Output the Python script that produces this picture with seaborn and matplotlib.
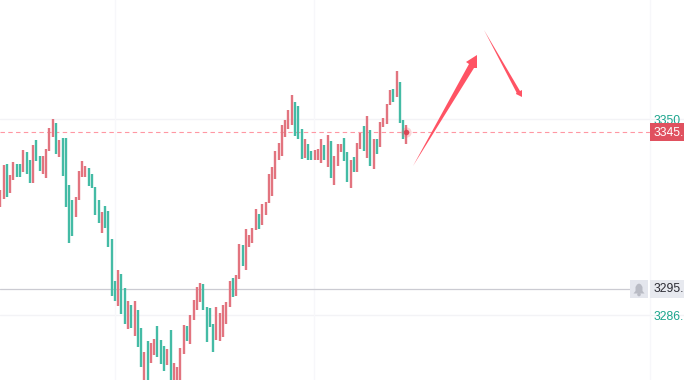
import pandas as pd
import seaborn as sns
import matplotlib.pyplot as plt
from matplotlib.patches import Circle, Polygon, Rectangle
from matplotlib.transforms import Affine2D

# bar ranges, oldest first
highs = [
    3326.9, 3334.8, 3335.2, 3331.7, 3335.8, 3335.2, 3335.2, 3339.6, 3339.0, 3336.4,
    3341.2, 3342.8, 3337.7, 3337.7, 3339.9, 3346.6, 3349.5, 3348.2, 3342.8, 3343.4,
    3343.4, 3328.5, 3323.7, 3324.7, 3332.9, 3336.1, 3334.5, 3333.9, 3332.0, 3327.8,
    3323.7, 3319.9, 3321.8, 3320.2, 3311.3, 3297.9, 3301.4, 3300.1, 3295.7, 3291.5,
    3290.3, 3291.5, 3288.7, 3282.9, 3275.3, 3278.8, 3278.2, 3279.4, 3283.6, 3279.1,
    3277.2, 3276.2, 3282.3, 3271.8, 3270.5, 3276.6, 3283.9, 3283.6, 3287.1, 3291.9,
    3296.0, 3297.3, 3296.9, 3289.6, 3289.3, 3284.2, 3289.6, 3287.7, 3290.3, 3291.2,
    3297.9, 3298.9, 3299.8, 3309.7, 3309.4, 3314.5, 3312.6, 3314.8, 3320.8, 3319.2,
    3322.4, 3323.1, 3332.0, 3334.2, 3339.3, 3341.9, 3347.6, 3349.2, 3352.4, 3357.1,
    3354.9, 3353.6, 3346.3, 3343.1, 3341.5, 3339.3, 3339.6, 3339.9, 3343.1, 3341.2,
    3344.4, 3342.5, 3337.7, 3341.5, 3341.5, 3343.4, 3339.0, 3336.4, 3337.4, 3341.9,
    3345.0, 3347.3, 3350.5, 3346.0, 3343.1, 3343.1, 3348.5, 3349.8, 3354.3, 3358.7,
    3359.1, 3364.8, 3361.3, 3349.2, 3347.6,
]
lows = [
    3321.5, 3324.0, 3324.7, 3325.9, 3330.1, 3331.0, 3331.0, 3332.6, 3332.0, 3329.1,
    3329.1, 3336.1, 3332.9, 3332.0, 3330.7, 3339.3, 3343.8, 3338.4, 3337.4, 3331.3,
    3321.5, 3310.0, 3312.2, 3318.3, 3323.7, 3331.0, 3331.0, 3328.2, 3327.5, 3318.9,
    3316.4, 3313.2, 3314.8, 3308.7, 3293.1, 3291.5, 3289.9, 3287.4, 3284.2, 3282.6,
    3282.9, 3280.4, 3276.9, 3270.5, 3264.8, 3265.7, 3271.8, 3274.3, 3273.7, 3271.5,
    3269.2, 3271.2, 3264.8, 3264.8, 3264.8, 3264.8, 3274.7, 3278.8, 3277.8, 3285.5,
    3288.7, 3291.2, 3288.7, 3278.5, 3283.2, 3275.3, 3279.1, 3278.8, 3280.0, 3284.2,
    3289.6, 3292.8, 3293.1, 3298.5, 3302.7, 3301.4, 3308.7, 3310.0, 3314.1, 3314.5,
    3315.7, 3318.9, 3322.7, 3325.0, 3330.4, 3336.4, 3337.7, 3343.8, 3346.3, 3347.6,
    3344.1, 3343.1, 3336.8, 3337.1, 3336.4, 3336.4, 3336.4, 3336.4, 3335.5, 3336.4,
    3334.2, 3330.7, 3328.5, 3334.5, 3339.0, 3336.1, 3329.4, 3327.5, 3332.6, 3332.6,
    3339.9, 3339.3, 3337.1, 3334.5, 3333.6, 3338.4, 3340.6, 3346.9, 3347.9, 3354.0,
    3354.9, 3356.5, 3348.2, 3343.1, 3341.5,
]
# r = red bar, g = green bar
directions = list(
    "rrgrrggrgg" "rggrrrrgrg" "gggrrrrggg" "grggggrggr" "grggrgrrgg"
    "grgrrrrgrr" "rrggggrrrr" "rgrrgrrrrg" "rrrrrrrrrr" "gggrggrrrg"
    "rgrrrggrgr" "rgrgrgrrrr" "grggr"
)
last_price = 3345.5
alert_price = 3295.4
grid_prices = [3349.5, 3287.1]
grid_bars = [35.1, 95.9, 198.5]

RED = '#e2747f'
GREEN = '#44bba5'
W, H = 684, 380
XLIM = (-0.1, 208.8)
YLIM = (3266.37, 3387.4)

sns.set_theme(style='white')
plt.rcParams['font.family'] = ['Liberation Sans', 'DejaVu Sans']

fig = plt.figure(figsize=(W / 100, H / 100), dpi=100)
ax = fig.add_axes([0, 0, 1, 1])
ax.axis('off')

# overlays below are placed in image pixels, origin top left
px = Affine2D().scale(1, -1).translate(0, H)

for p in grid_prices:
    ax.axhline(p, color='#f3f3f6', lw=1, zorder=1)
for b in grid_bars:
    ax.axvline(b, color='#f7f7fa', lw=1, zorder=1)

ax.plot([XLIM[0], 192.3], [alert_price, alert_price], color='#cbcbd2', lw=0.9, zorder=2)
ax.plot([XLIM[0], 198.5], [last_price, last_price], color='#ff97a3', lw=0.8,
        dashes=(4, 3), zorder=2)

bars = pd.DataFrame({'bar': range(len(highs)), 'high': highs, 'low': lows, 'dir': directions})
long_bars = bars.melt(id_vars=['bar', 'dir'], value_vars=['high', 'low'], value_name='price')
sns.lineplot(data=long_bars, x='bar', y='price', hue='dir', units='bar', estimator=None,
             palette={'r': RED, 'g': GREEN}, lw=1.7, legend=False, ax=ax,
             solid_capstyle='butt', zorder=3)

# last price dot with halo
last = pd.DataFrame({'bar': [len(highs) - 1], 'price': [last_price]})
sns.scatterplot(data=last, x='bar', y='price', s=55, color='#f25c6a', alpha=0.25,
                linewidth=0, legend=False, ax=ax, zorder=4)
sns.scatterplot(data=last, x='bar', y='price', s=16, color='#d9404f', alpha=0.9,
                linewidth=0, legend=False, ax=ax, zorder=5)
ax.set_xlim(*XLIM)
ax.set_ylim(*YLIM)

# hand drawn arrows
ARROW = '#ff5364'
up_arrow = [(413, 166), (469, 64), (466, 62), (477, 55), (477, 68), (474, 68)]
down_arrow = [(484, 30), (520, 91), (522, 90), (522, 97), (516, 94), (516.5, 92.5)]
for shape in (up_arrow, down_arrow):
    ax.add_patch(Polygon(shape, closed=True, fc=ARROW, ec='none', transform=px, zorder=6))

# right hand price labels
ax.text(653.5, 121, '3350', color='#1ba58d', fontsize=8.7, va='center', transform=px, zorder=7)
ax.add_patch(Rectangle((650, 123), 34, 18, fc='#e0515f', ec='none', transform=px, zorder=8))
ax.text(653.5, 132.5, '3345.', color='white', fontsize=8.7, va='center', transform=px, zorder=9)
ax.add_patch(Rectangle((650, 280), 34, 18, fc='#e7e9ef', ec='none', transform=px, zorder=8))
ax.text(653.5, 289.5, '3295.', color='#2b2b33', fontsize=8.7, va='center', transform=px, zorder=9)
ax.text(653.5, 317, '3286.', color='#1ba58d', fontsize=8.7, va='center', transform=px, zorder=9)

# bell button
ax.add_patch(Rectangle((630, 280), 18, 18, fc='#e4e6ed', ec='none', transform=px, zorder=8))
bell = [(633.5, 293.5), (635.5, 291), (635.5, 287), (637, 284.5), (639, 283.5), (641, 284.5),
        (642.5, 287), (642.5, 291), (644.5, 293.5)]
ax.add_patch(Polygon(bell, closed=True, fc='#b9bbc4', ec='none', transform=px, zorder=9))
ax.add_patch(Circle((639, 294.5), 1.8, fc='#b9bbc4', ec='none', transform=px, zorder=9))

fig.savefig('out.png', dpi=100)
